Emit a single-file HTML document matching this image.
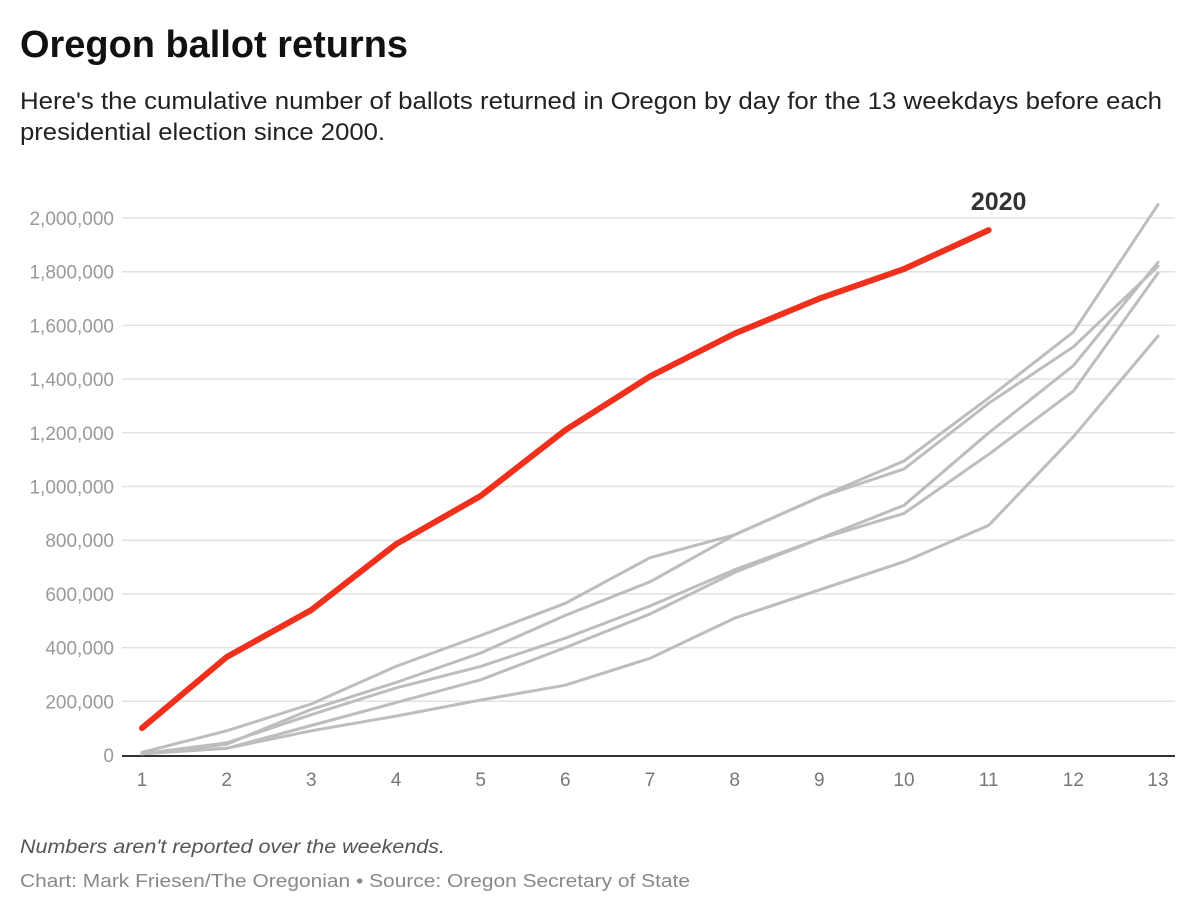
<!DOCTYPE html>
<html><head><meta charset="utf-8"><style>
html,body{margin:0;padding:0;background:#fff;}
svg{display:block;font-family:"Liberation Sans",sans-serif;}
</style></head><body>
<svg id="chart" width="1200" height="921" viewBox="0 0 1200 921">
<text x="20" y="57" font-size="38" font-weight="bold" fill="#111" textLength="388" lengthAdjust="spacingAndGlyphs">Oregon ballot returns</text>
<text x="20" y="109" font-size="24" fill="#222" textLength="1142" lengthAdjust="spacingAndGlyphs">Here's the cumulative number of ballots returned in Oregon by day for the 13 weekdays before each</text>
<text x="20" y="140" font-size="24" fill="#222" textLength="365" lengthAdjust="spacingAndGlyphs">presidential election since 2000.</text>
<g id="grid"></g>
<g id="yticks"></g>
<g id="xticks"></g>
<g id="series"></g>
<text x="20" y="853" font-size="19" font-style="italic" fill="#555" textLength="425" lengthAdjust="spacingAndGlyphs">Numbers aren't reported over the weekends.</text>
<text x="20" y="887" font-size="18" fill="#888" textLength="670" lengthAdjust="spacingAndGlyphs">Chart: Mark Friesen/The Oregonian • Source: Oregon Secretary of State</text>
</svg>
<script>
const days = [1,2,3,4,5,6,7,8,9,10,11,12,13];
const yTicks = [0,200000,400000,600000,800000,1000000,1200000,1400000,1600000,1800000,2000000];
const series2020 = [100000,365000,540000,785000,965000,1210000,1410000,1570000,1700000,1810000,1955000];
const seriesA = [10000,90000,190000,330000,445000,565000,735000,820000,960000,1095000,1330000,1575000,2050000];
const seriesB = [5000,40000,170000,270000,380000,520000,645000,820000,960000,1065000,1310000,1520000,1820000];
const seriesC = [5000,45000,150000,250000,330000,435000,555000,690000,805000,930000,1200000,1450000,1835000];
const seriesD = [5000,25000,110000,195000,280000,400000,525000,680000,805000,900000,1120000,1355000,1795000];
const seriesE = [5000,25000,90000,145000,205000,260000,360000,510000,615000,720000,855000,1185000,1560000];
const label2020 = "2020";

const NS="http://www.w3.org/2000/svg";
const x0=142,x1=1158,yb=755,yt=218;
const xs=d=>x0+(d-1)*(x1-x0)/12;
const ys=v=>yb-v*(yb-yt)/2000000;
function mk(tag,parent,attrs){const e=document.createElementNS(NS,tag);for(const k in attrs)e.setAttribute(k,attrs[k]);parent.appendChild(e);return e;}
const grid=document.getElementById('grid'),yt_g=document.getElementById('yticks'),xt=document.getElementById('xticks'),sg=document.getElementById('series');
yTicks.forEach(v=>{
  if(v>0){const l=mk('line',grid,{x1:122,x2:1175,y1:ys(v),y2:ys(v),stroke:'#e2e2e2','stroke-width':1.5});
  
  }
  const t=mk('text',yt_g,{x:114,y:ys(v)+7,'text-anchor':'end','font-size':19,fill:'#999'});
  
  
  t.textContent=v.toLocaleString('en-US');
});
const ax=mk('line',xt,{x1:122,x2:1175,y1:yb+1,y2:yb+1,stroke:'#333','stroke-width':2});


days.forEach(d=>{
  const t=mk('text',xt,{x:xs(d),y:786,'text-anchor':'middle','font-size':19,fill:'#777'});
  
  
  t.textContent=d;
});
function path(arr){return arr.map((v,i)=>(i?'L':'M')+xs(days[i]).toFixed(1)+','+ys(v).toFixed(1)).join('');}
[seriesA,seriesB,seriesC,seriesD,seriesE].forEach((s,i)=>{
  const p=mk('path',sg,{d:path(s),fill:'none',stroke:'#bdbdbd','stroke-width':3,'stroke-linejoin':'round','stroke-linecap':'round'});
  
  
});
const r=mk('path',sg,{d:path(series2020),fill:'none',stroke:'#f0301c','stroke-width':6,'stroke-linejoin':'round','stroke-linecap':'round'});


const last=series2020.length-1;
const lt=mk('text',sg,{x:xs(days[last])+10,y:ys(series2020[last])-20,'text-anchor':'middle','font-size':25,'font-weight':'bold',fill:'#333'});


lt.textContent=label2020;
</script>
</body></html>
